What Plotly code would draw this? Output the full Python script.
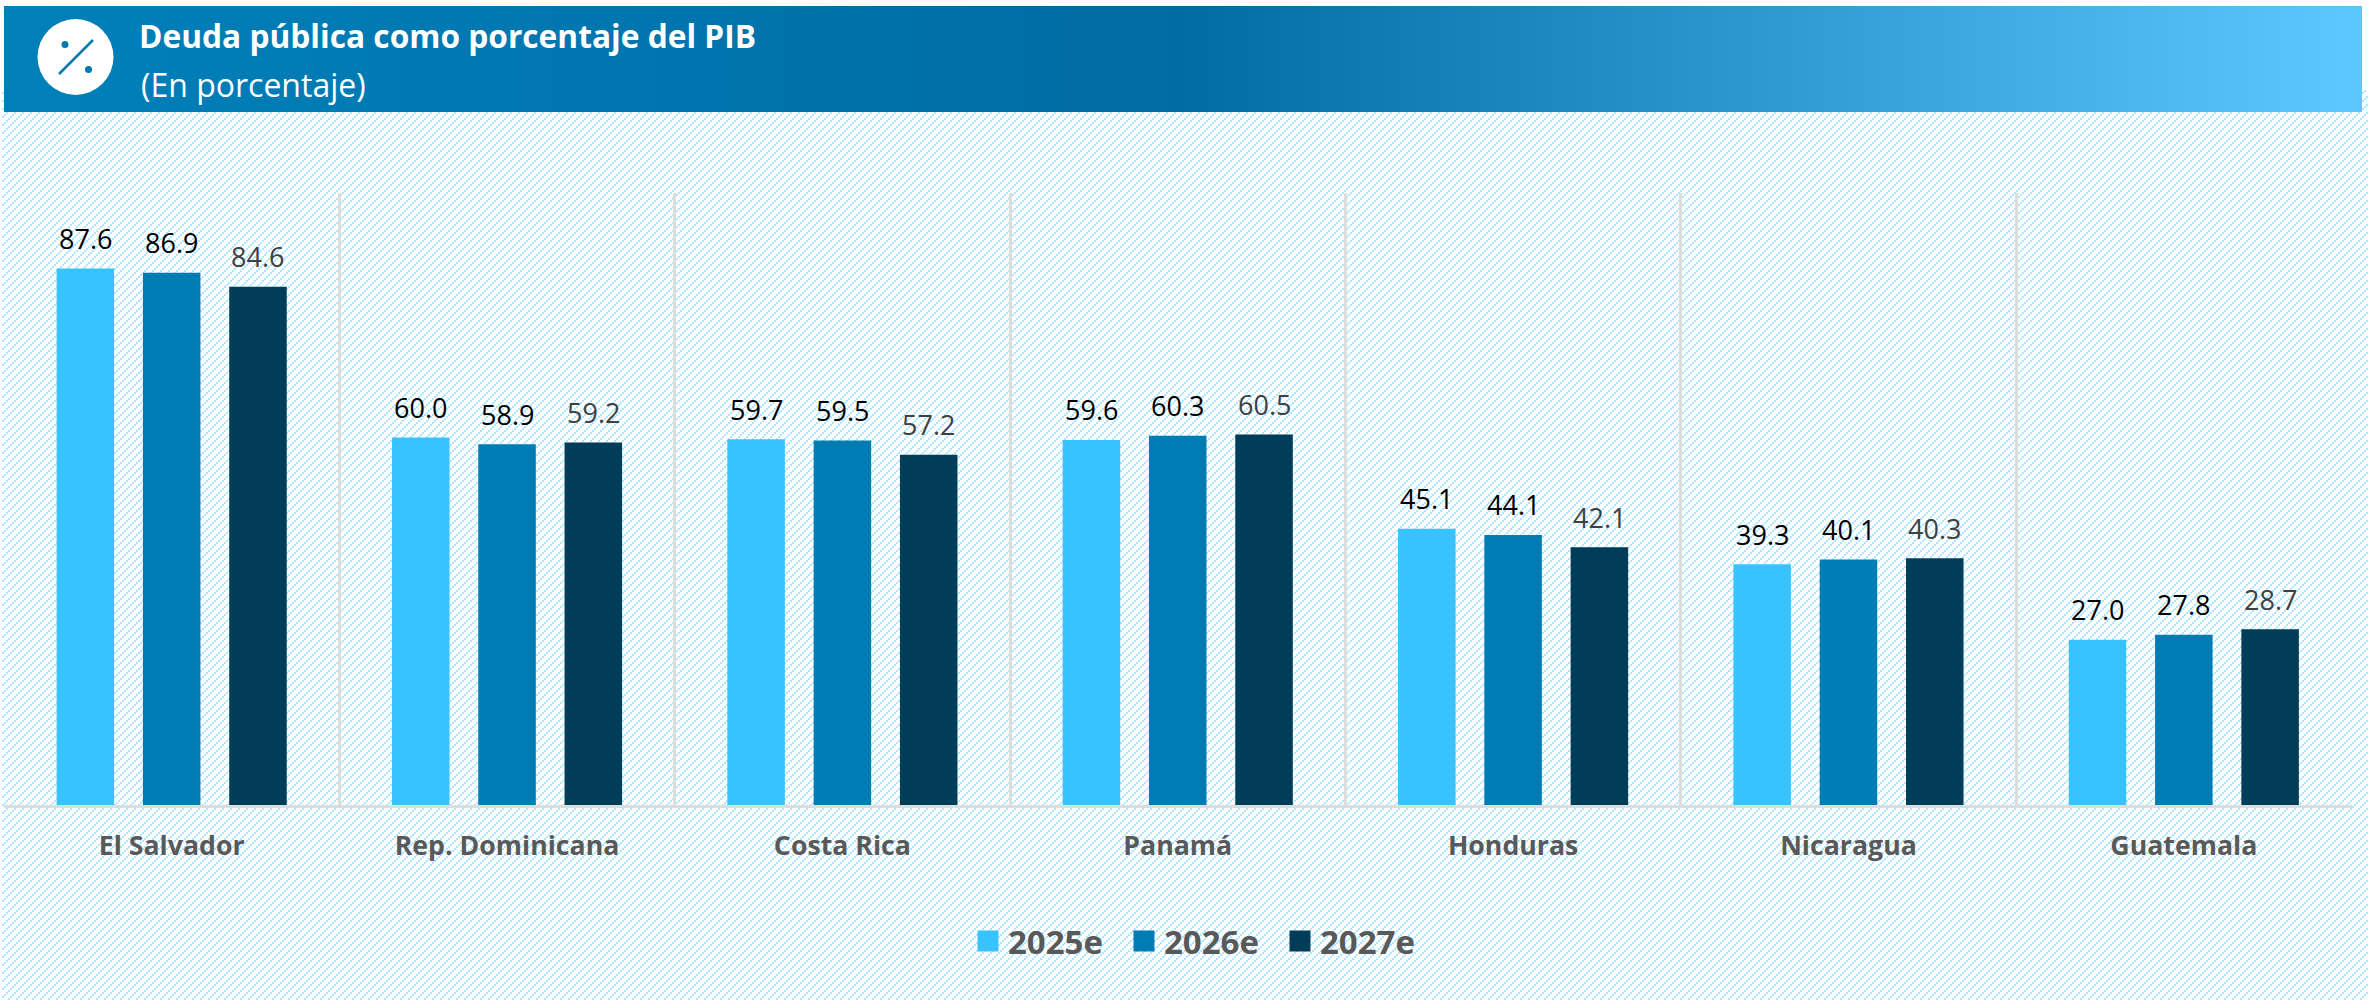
import base64
import plotly.graph_objects as go

W, H = 2374, 1000

categories = ["El Salvador", "Rep. Dominicana", "Costa Rica", "Panamá", "Honduras", "Nicaragua", "Guatemala"]
s2025 = [87.6, 60.0, 59.7, 59.6, 45.1, 39.3, 27.0]
s2026 = [86.9, 58.9, 59.5, 60.3, 44.1, 40.1, 27.8]
s2027 = [84.6, 59.2, 57.2, 60.5, 42.1, 40.3, 28.7]
series_names = ["2025e", "2026e", "2027e"]
colors = ["#38C3FF", "#007CB4", "#003D59"]
label_colors = ["#000000", "#000000", "#404040"]
title_text = "Deuda pública como porcentaje del PIB"
subtitle_text = "(En porcentaje)"

FONT = "Open Sans"
L, R, T, B = 4, 2351.5, 192.5, 805


def px(x):
    return x / W


def py(y):
    return 1 - y / H


def uri(svg):
    return "data:image/svg+xml;base64," + base64.b64encode(svg.encode()).decode()


hatch_svg = (
    '<svg xmlns="http://www.w3.org/2000/svg" width="2368" height="1000" shape-rendering="crispEdges">'
    '<defs><pattern id="h" width="8" height="8" patternUnits="userSpaceOnUse">'
    '<rect x="0" y="6" width="2" height="2" fill="#ADE6FF"/>'
    '<rect x="2" y="4" width="2" height="2" fill="#ADE6FF"/>'
    '<rect x="4" y="2" width="2" height="2" fill="#ADE6FF"/>'
    '<rect x="6" y="0" width="2" height="2" fill="#ADE6FF"/>'
    '</pattern></defs><rect x="2" y="90" width="2366" height="910" fill="url(#h)"/></svg>'
)
band_svg = (
    '<svg xmlns="http://www.w3.org/2000/svg" width="2358" height="106">'
    '<defs><linearGradient id="g" x1="0" x2="1" y1="0" y2="0">'
    '<stop offset="0" stop-color="#0080BA"/><stop offset="0.5" stop-color="#006CA3"/>'
    '<stop offset="1" stop-color="#5DC7FF"/></linearGradient></defs>'
    '<rect width="2358" height="106" fill="url(#g)"/></svg>'
)

fig = go.Figure()
all_series = [s2025, s2026, s2027]
for name, vals, col in zip(series_names, all_series, colors):
    fig.add_bar(name=name, x=categories, y=vals, marker=dict(color=col, line=dict(width=0)),
                legendgroup=name, showlegend=False)
    fig.add_scatter(name=name, x=[None], y=[None], mode="markers", legendgroup=name,
                    marker=dict(symbol="square", size=16, color=col, line=dict(width=5, color=col)))

step = 86.3 / ((R - L) / 7)
annotations = []
for j, (vals, lc) in enumerate(zip(all_series, label_colors)):
    for i, v in enumerate(vals):
        annotations.append(dict(x=i + (j - 1) * step, y=v, xref="x", yref="y", text=f"{v:.1f}",
                                showarrow=False, yanchor="middle", yshift=30,
                                font=dict(family=FONT, size=27, color=lc)))
annotations.append(dict(x=px(139), y=py(85), xref="paper", yref="paper", text=subtitle_text,
                        xanchor="left", yanchor="middle", showarrow=False,
                        font=dict(family=FONT, size=32, color="#FFFFFF")))

shapes = [
    dict(type="circle", xref="paper", yref="paper", x0=px(37.5), x1=px(113.5), y0=py(95), y1=py(19),
         fillcolor="#FFFFFF", line=dict(width=0)),
    dict(type="line", xref="paper", yref="paper", x0=px(59), x1=px(93), y0=py(74), y1=py(40),
         line=dict(color="#0078B2", width=2.5)),
    dict(type="circle", xref="paper", yref="paper", x0=px(61.5), x1=px(68.5), y0=py(48), y1=py(41),
         fillcolor="#0078B2", line=dict(width=0)),
    dict(type="circle", xref="paper", yref="paper", x0=px(85), x1=px(92), y0=py(73), y1=py(66),
         fillcolor="#0078B2", line=dict(width=0)),
]

fig.update_layout(
    width=W, height=H, autosize=False, margin=dict(l=0, r=0, t=0, b=0),
    paper_bgcolor="#FFFFFF", plot_bgcolor="rgba(0,0,0,0)",
    barmode="group", bargap=0.228, bargroupgap=1 / 3,
    title=dict(text=f"<b>{title_text}</b>", x=px(139), xref="paper", xanchor="left",
               y=py(37), yref="paper", yanchor="middle",
               font=dict(family=FONT, size=31.7, color="#FFFFFF")),
    xaxis=dict(domain=[px(L), px(R)], range=[-0.5, 6.5], type="category", tickson="boundaries",
               showgrid=True, gridcolor="#DDDDDD", gridwidth=2.5,
               showline=True, linecolor="#DDDDDD", linewidth=2.5, zeroline=False,
               ticks="", ticklabelstandoff=15,
               tickfont=dict(family=FONT, size=26.7, color="#595959", weight=700)),
    yaxis=dict(domain=[py(B), py(T)], range=[0, 100], visible=False, fixedrange=True),
    legend=dict(orientation="h", x=px(968), xanchor="left", y=py(941), yanchor="middle",
                bgcolor="rgba(0,0,0,0)", itemwidth=30, entrywidth=111, entrywidthmode="pixels",
                traceorder="normal", font=dict(family=FONT, size=33, color="#595959", weight=700)),
    images=[
        dict(source=uri(hatch_svg), xref="paper", yref="paper", x=0, y=1, sizex=2368 / W, sizey=1,
             xanchor="left", yanchor="top", sizing="stretch", layer="below"),
        dict(source=uri(band_svg), xref="paper", yref="paper", x=px(4), y=py(6), sizex=2358 / W, sizey=106 / H,
             xanchor="left", yanchor="top", sizing="stretch", layer="below"),
    ],
    annotations=annotations, shapes=shapes, showlegend=True,
)

fig.write_html("out.html", config={"displayModeBar": False},
               post_script="document.body.style.margin='0';")
